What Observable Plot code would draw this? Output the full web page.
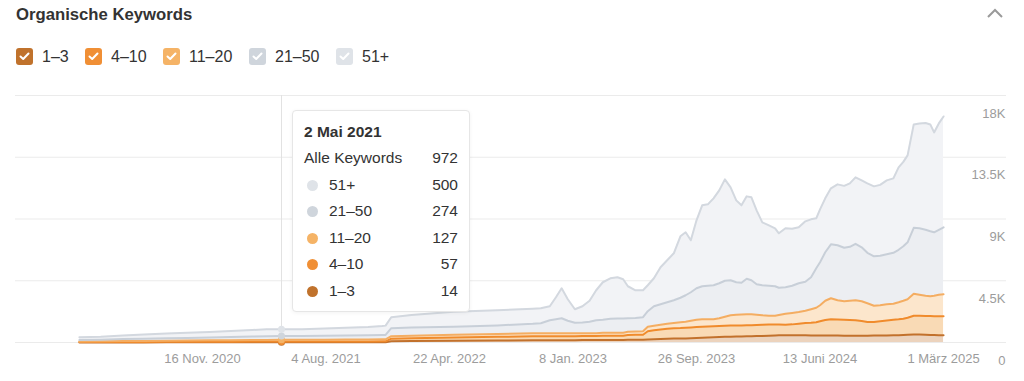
<!DOCTYPE html>
<html><head><meta charset="utf-8">
<script src="https://cdn.jsdelivr.net/npm/d3@7"></script>
<script src="https://cdn.jsdelivr.net/npm/@observablehq/plot@0.6"></script>
<style>
body{margin:0;background:#fff;font-family:"Liberation Sans",Arial,sans-serif;}
#wrap{position:relative;width:1024px;height:381px;overflow:hidden;background:#fff;}
#title{position:absolute;left:16px;top:5px;font-size:16.7px;font-weight:bold;color:#333;line-height:20px;}
#chev{position:absolute;left:0;top:0;}
#legend{position:absolute;left:0;top:48px;height:17px;width:500px;}
.item{position:absolute;top:0;display:flex;align-items:center;height:17px;font-size:16px;color:#333;}
.box{width:17px;height:17px;border-radius:3px;margin-right:9px;display:flex;align-items:center;justify-content:center;}
#chart{position:absolute;left:0;top:80px;}
#tip{position:absolute;left:292px;top:110px;width:178px;height:202px;box-sizing:border-box;border:1px solid #e6e6e6;border-radius:4px;background:#fff;box-shadow:0 1px 4px rgba(0,0,0,0.05);color:#333;font-size:15.5px;}
#tip .t{position:absolute;left:11px;top:11px;line-height:20px;font-weight:bold;}
#tip .row{position:absolute;left:11px;right:11px;height:26px;line-height:26px;}
#tip .row .v{position:absolute;right:0;top:0;}
#tip .row .l{position:absolute;top:0;}
#tip .row .d{position:absolute;left:3px;top:8px;width:11px;height:11px;border-radius:50%;}
</style></head>
<body>
<div id="wrap">
  <div id="title">Organische Keywords</div>
  <svg id="chev" width="1024" height="30"><polyline points="988,17 995,10 1002,17" fill="none" stroke="#9a9a9a" stroke-width="2"/></svg>
  <div id="legend"></div>
  <div id="chart"></div>
  <div id="tip"></div>
</div>
<script>
const cats = ["1–3","4–10","11–20","21–50","51+"];
const dates = ["2020-03-01","2020-04-15","2020-06-01","2020-07-15","2020-09-01","2020-10-15","2020-12-01","2021-01-15","2021-03-01","2021-04-01",
"2021-05-02","2021-06-15","2021-08-01","2021-09-15","2021-11-01","2021-12-01","2021-12-08","2021-12-20","2022-02-01","2022-05-01",
"2022-08-01","2022-10-15","2022-11-01","2022-11-20","2022-12-03","2022-12-15","2022-12-28","2023-01-12","2023-01-28","2023-02-12",
"2023-02-26","2023-03-12","2023-03-28","2023-04-12","2023-04-24","2023-05-04","2023-05-20","2023-06-05","2023-06-15","2023-06-28",
"2023-07-12","2023-07-26","2023-08-09","2023-08-23","2023-09-03","2023-09-14","2023-09-26","2023-10-08","2023-10-20","2023-11-01",
"2023-11-13","2023-11-25","2023-12-07","2023-12-19","2023-12-30","2024-01-10","2024-01-20","2024-01-31","2024-02-12","2024-02-26",
"2024-03-10","2024-03-18","2024-04-01","2024-04-15","2024-04-29","2024-05-13","2024-05-25","2024-06-05","2024-06-13","2024-06-24",
"2024-07-06","2024-07-20","2024-08-03","2024-08-15","2024-08-27","2024-09-09","2024-09-21","2024-10-05","2024-10-18","2024-11-01",
"2024-11-15","2024-11-26","2024-12-06","2024-12-15","2024-12-28","2025-01-09","2025-01-22","2025-02-01","2025-02-09","2025-02-19",
"2025-03-01"];
const r1_3 = [6,7,8,9,10,10,11,12,13,13,
 14,14,15,16,17,18,18,95,102,131,
 146,167,167,167,167,167,167,167,182,182,
 182,189,189,189,189,197,204,204,226,240,
 255,269,284,291,298,313,328,349,364,386,
 400,415,422,437,444,459,459,466,480,495,
 510,524,531,531,531,524,517,510,510,510,
 510,502,495,495,495,495,495,502,510,517,
 524,531,546,561,582,575,561,546,539,531,
 531];
const r4_10 = [22,24,28,32,36,40,44,48,52,55,
 57,58,60,62,64,66,67,182,204,240,
 269,284,292,292,292,292,292,292,291,291,
 291,306,306,306,306,349,357,364,597,655,
 699,736,757,765,779,786,800,801,801,801,
 801,801,808,801,801,800,800,808,816,823,
 800,780,770,790,838,896,924,968,1041,1128,
 1186,1172,1157,1143,1128,1070,997,990,1041,1085,
 1128,1158,1187,1244,1369,1376,1375,1383,1383,1384,
 1384];
const r11_20 = [50,55,65,75,85,92,100,108,118,123,
 127,128,132,136,140,144,146,182,180,190,
 205,215,218,218,218,218,218,218,204,204,
 204,218,218,218,218,233,240,255,327,328,
 342,364,379,422,437,488,532,546,531,509,
 568,662,757,786,793,801,801,750,691,640,
 640,700,801,837,851,895,983,1055,1164,1405,
 1529,1405,1355,1405,1456,1442,1369,1187,1164,1186,
 1173,1245,1310,1347,1602,1529,1471,1442,1485,1565,
 1601];
const r21_50 = [110,120,145,165,180,195,215,235,255,268,
 274,272,282,293,305,318,324,582,599,589,
 625,695,728,946,1019,1092,910,764,779,837,
 946,947,1020,1034,1041,990,990,1019,1129,1420,
 1492,1565,1659,1783,1929,2075,2293,2403,2439,2475,
 2548,2621,2548,2366,2315,2585,2475,2220,2184,2177,
 2149,1985,1924,1977,2097,2111,2330,2876,3131,3531,
 3931,4004,3894,3931,4114,3931,3676,3604,3604,3640,
 3712,3822,3968,4150,4804,4841,4805,4732,4623,4732,
 4878];
const r51p = [190,215,270,310,345,370,400,440,470,505,
 500,495,530,570,600,655,675,801,917,1092,
 1106,1100,1092,1020,1602,2184,1565,983,1187,1529,
 2184,2730,2948,3007,2854,2330,2016,1965,1892,2038,
 2694,3057,3422,4478,4587,3785,4950,5896,5933,6334,
 6770,7389,6771,5969,5642,6005,6043,5388,4587,4404,
 4222,3968,4295,4149,4077,4405,4222,3640,3859,3931,
 4077,4441,4514,4623,4841,4877,5060,5095,5169,5387,
 5424,6006,6151,6333,7535,7644,7789,7789,7280,7753,
 8080];
const tickDates = ["2020-11-16","2021-08-04","2022-04-22","2023-01-08","2023-09-26","2024-06-13","2025-03-01"];
const tickLabels = ["16 Nov. 2020","4 Aug. 2021","22 Apr. 2022","8 Jan. 2023","26 Sep. 2023","13 Juni 2024","1 März 2025"];
const yTicks = [0,4500,9000,13500,18000];
const yTickLabels = ["0","4.5K","9K","13.5K","18K"];
const tipDateStr = "2021-05-02";
const tipTitle = "2 Mai 2021";
const tipAllLabel = "Alle Keywords";

const fills = ["#ecd3bd","#f9dab5","#fce6cc","#eceef2","#f2f3f6"];
const strokes = ["#c2712c","#f08b2c","#f4ad62","#c8cfd8","#d3d8df"];
const boxColors = ["#c0722c","#f08f35","#f5b366","#cfd5dc","#dfe3e8"];
const legendLeft = [16, 85, 163, 249, 336];

const series = [r1_3, r4_10, r11_20, r21_50, r51p];
const data = dates.flatMap((d, i) => cats.map((c, k) => ({
  date: new Date(d), cat: c, value: series[k][i], fill: fills[k], stroke: strokes[k], dot: boxColors[k]
})));
const tipDate = new Date(tipDateStr);
const tDates = tickDates.map(d => new Date(d));

const chart = Plot.plot({
  width: 1024, height: 301,
  marginTop: 15, marginBottom: 39, marginLeft: 15, marginRight: 18,
  style: {fontFamily: '"Liberation Sans", Arial, sans-serif', fontSize: "13px", background: "transparent"},
  x: {type: "utc", domain: [new Date("2019-10-18"), new Date("2025-07-12")], label: null},
  y: {domain: [0, 18000], label: null},
  color: {type: "identity"},
  marks: [
    Plot.gridY({ticks: yTicks, stroke: "#ebebeb", strokeOpacity: 1}),
    Plot.areaY(data, {x: "date", y: "value", z: "cat", fill: "fill", order: cats}),
    Plot.lineY(data, Plot.stackY2({x: "date", y: "value", z: "cat", stroke: "stroke", order: cats, strokeWidth: 2})),
    Plot.ruleX([tipDate], {stroke: "#e2e2e2"}),
    Plot.dot(data.filter(d => +d.date === +tipDate), Plot.stackY2({x: "date", y: "value", z: "cat", fill: "dot", order: cats, r: 3.5})),
    Plot.axisX({ticks: tDates, tickSize: 0, tickPadding: 11, color: "#9c9c9c", label: null,
      tickFormat: d => tickLabels[tDates.findIndex(t => +t === +d)]}),
    Plot.axisY({anchor: "right", ticks: yTicks, tickSize: 0, tickPadding: 0, textAnchor: "end", dx: -1, dy: 18, color: "#9c9c9c", label: null,
      tickFormat: d => yTickLabels[yTicks.indexOf(d)]})
  ]
});
document.getElementById("chart").appendChild(chart);

// legend
const legend = document.getElementById("legend");
cats.forEach((c, k) => {
  const it = document.createElement("div");
  it.className = "item";
  it.style.left = legendLeft[k] + "px";
  it.innerHTML = `<div class="box" style="background:${boxColors[k]}"><svg width="11" height="9" viewBox="0 0 11 9"><polyline points="1.5,4.5 4.2,7 9.5,1.5" fill="none" stroke="#fff" stroke-width="2" stroke-linecap="round" stroke-linejoin="round"/></svg></div><span>${c}</span>`;
  legend.appendChild(it);
});

// tooltip
const idx = dates.indexOf(tipDateStr);
const vals = series.map(s => s[idx]);
const total = d3.sum(vals);
const tip = document.getElementById("tip");
let html = `<div class="t">${tipTitle}</div>`;
html += `<div class="row" style="top:34px"><span class="l" style="left:0">${tipAllLabel}</span><span class="v">${total}</span></div>`;
[4,3,2,1,0].forEach((k, j) => {
  html += `<div class="row" style="top:${60.5 + j*26.5}px"><span class="d" style="background:${boxColors[k]}"></span><span class="l" style="left:25px">${cats[k]}</span><span class="v">${vals[k]}</span></div>`;
});
tip.innerHTML = html;
</script>
</body></html>
